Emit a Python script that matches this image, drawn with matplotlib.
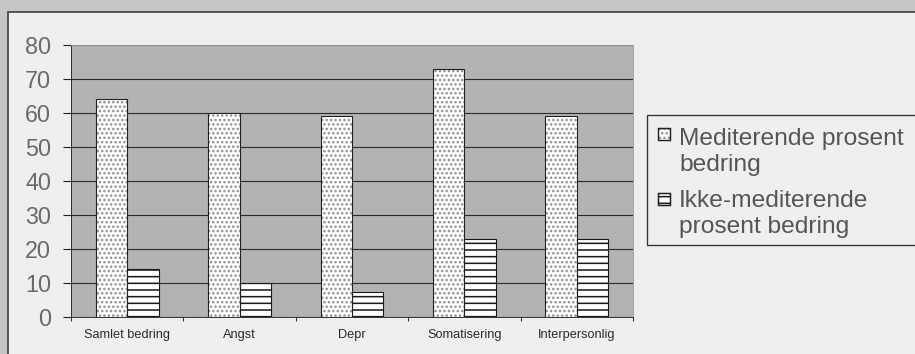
import matplotlib.pyplot as plt
from matplotlib.patches import Rectangle
import numpy as np

# categories and percent improvement for the two groups
categories = ['Samlet bedring', 'Angst', 'Depr', 'Somatisering', 'Interpersonlig']
mediterende = [64, 60, 59, 73, 59]
ikke_mediterende = [14, 10, 7.5, 23, 23]
series_labels = ['Mediterende prosent\nbedring', 'Ikke-mediterende\nprosent bedring']
yticks = [0, 10, 20, 30, 40, 50, 60, 70, 80]

plt.rcParams['font.family'] = ['Liberation Sans', 'DejaVu Sans']
plt.rcParams['hatch.linewidth'] = 1.4

W, H = 915, 354
fig = plt.figure(figsize=(W / 80, H / 80), dpi=80, facecolor='#c6c6c6')

# full-figure overlay in pixel units for the frame and the legend
lax = fig.add_axes([0, 0, 1, 1])
lax.set_xlim(0, W)
lax.set_ylim(H, 0)
lax.axis('off')
lax.add_patch(Rectangle((8, 12), W, H, facecolor='#efefef',
                        edgecolor='#4a4a4a', linewidth=1.6, zorder=0))

ax = fig.add_axes([71 / W, 1 - 317 / H, (633 - 71) / W, (317 - 45) / H])
ax.set_facecolor('#b3b3b3')

x = np.arange(len(categories))
w = 0.28
dot_style = dict(facecolor='white', edgecolor='#8a8a8a', hatch='...', linewidth=0)
stripe_style = dict(facecolor='white', edgecolor='#1a1a1a', hatch='--', linewidth=1.0)

# dotted bars: white fill with grey dots, outlined separately
ax.bar(x - w / 2, mediterende, w, zorder=3, **dot_style)
ax.bar(x - w / 2, mediterende, w, fill=False, edgecolor='#222222',
       linewidth=1.0, zorder=4)
# striped bars
ax.bar(x + w / 2, ikke_mediterende, w, zorder=3, **stripe_style)

ax.set_ylim(0, 80)
ax.set_xlim(-0.5, len(categories) - 0.5)
ax.set_yticks(yticks)
ax.set_yticklabels([str(t) for t in yticks], fontsize=21, color='#6a6a6a')
ax.yaxis.grid(True, color='#2a2a2a', linewidth=1.0, zorder=1)
ax.set_axisbelow(True)
ax.tick_params(axis='y', length=7, width=1, color='#222222', pad=11)

# category labels centred, ticks at group boundaries
ax.set_xticks(x)
ax.set_xticklabels(categories, fontsize=11.5, color='#2a2a2a')
ax.set_xticks(np.arange(len(categories) + 1) - 0.5, minor=True)
ax.tick_params(axis='x', which='major', length=0, pad=11)
ax.tick_params(axis='x', which='minor', length=4, width=1, color='#333333')

ax.spines['left'].set_color('#222222')
ax.spines['bottom'].set_color('#222222')
ax.spines['top'].set_color('#9a9a9a')
ax.spines['right'].set_color('#9a9a9a')

# legend box running off the right edge
lax.add_patch(Rectangle((647, 115), 300, 130, facecolor='#efefef',
                        edgecolor='#333333', linewidth=1.2, zorder=2))
legend_rows = [(134, 152, dot_style), (199, 214, stripe_style)]
for (hy, ty, style), label in zip(legend_rows, series_labels):
    lax.add_patch(Rectangle((658, hy - 6), 12, 12, zorder=3, **style))
    lax.add_patch(Rectangle((658, hy - 6), 12, 12, fill=False,
                            edgecolor='#222222', linewidth=1.3, zorder=4))
    lax.text(679, ty, label, fontsize=22, color='#555555',
             ha='left', va='center', linespacing=1.2, zorder=4)

fig.savefig('out.png', dpi=80, facecolor=fig.get_facecolor())
